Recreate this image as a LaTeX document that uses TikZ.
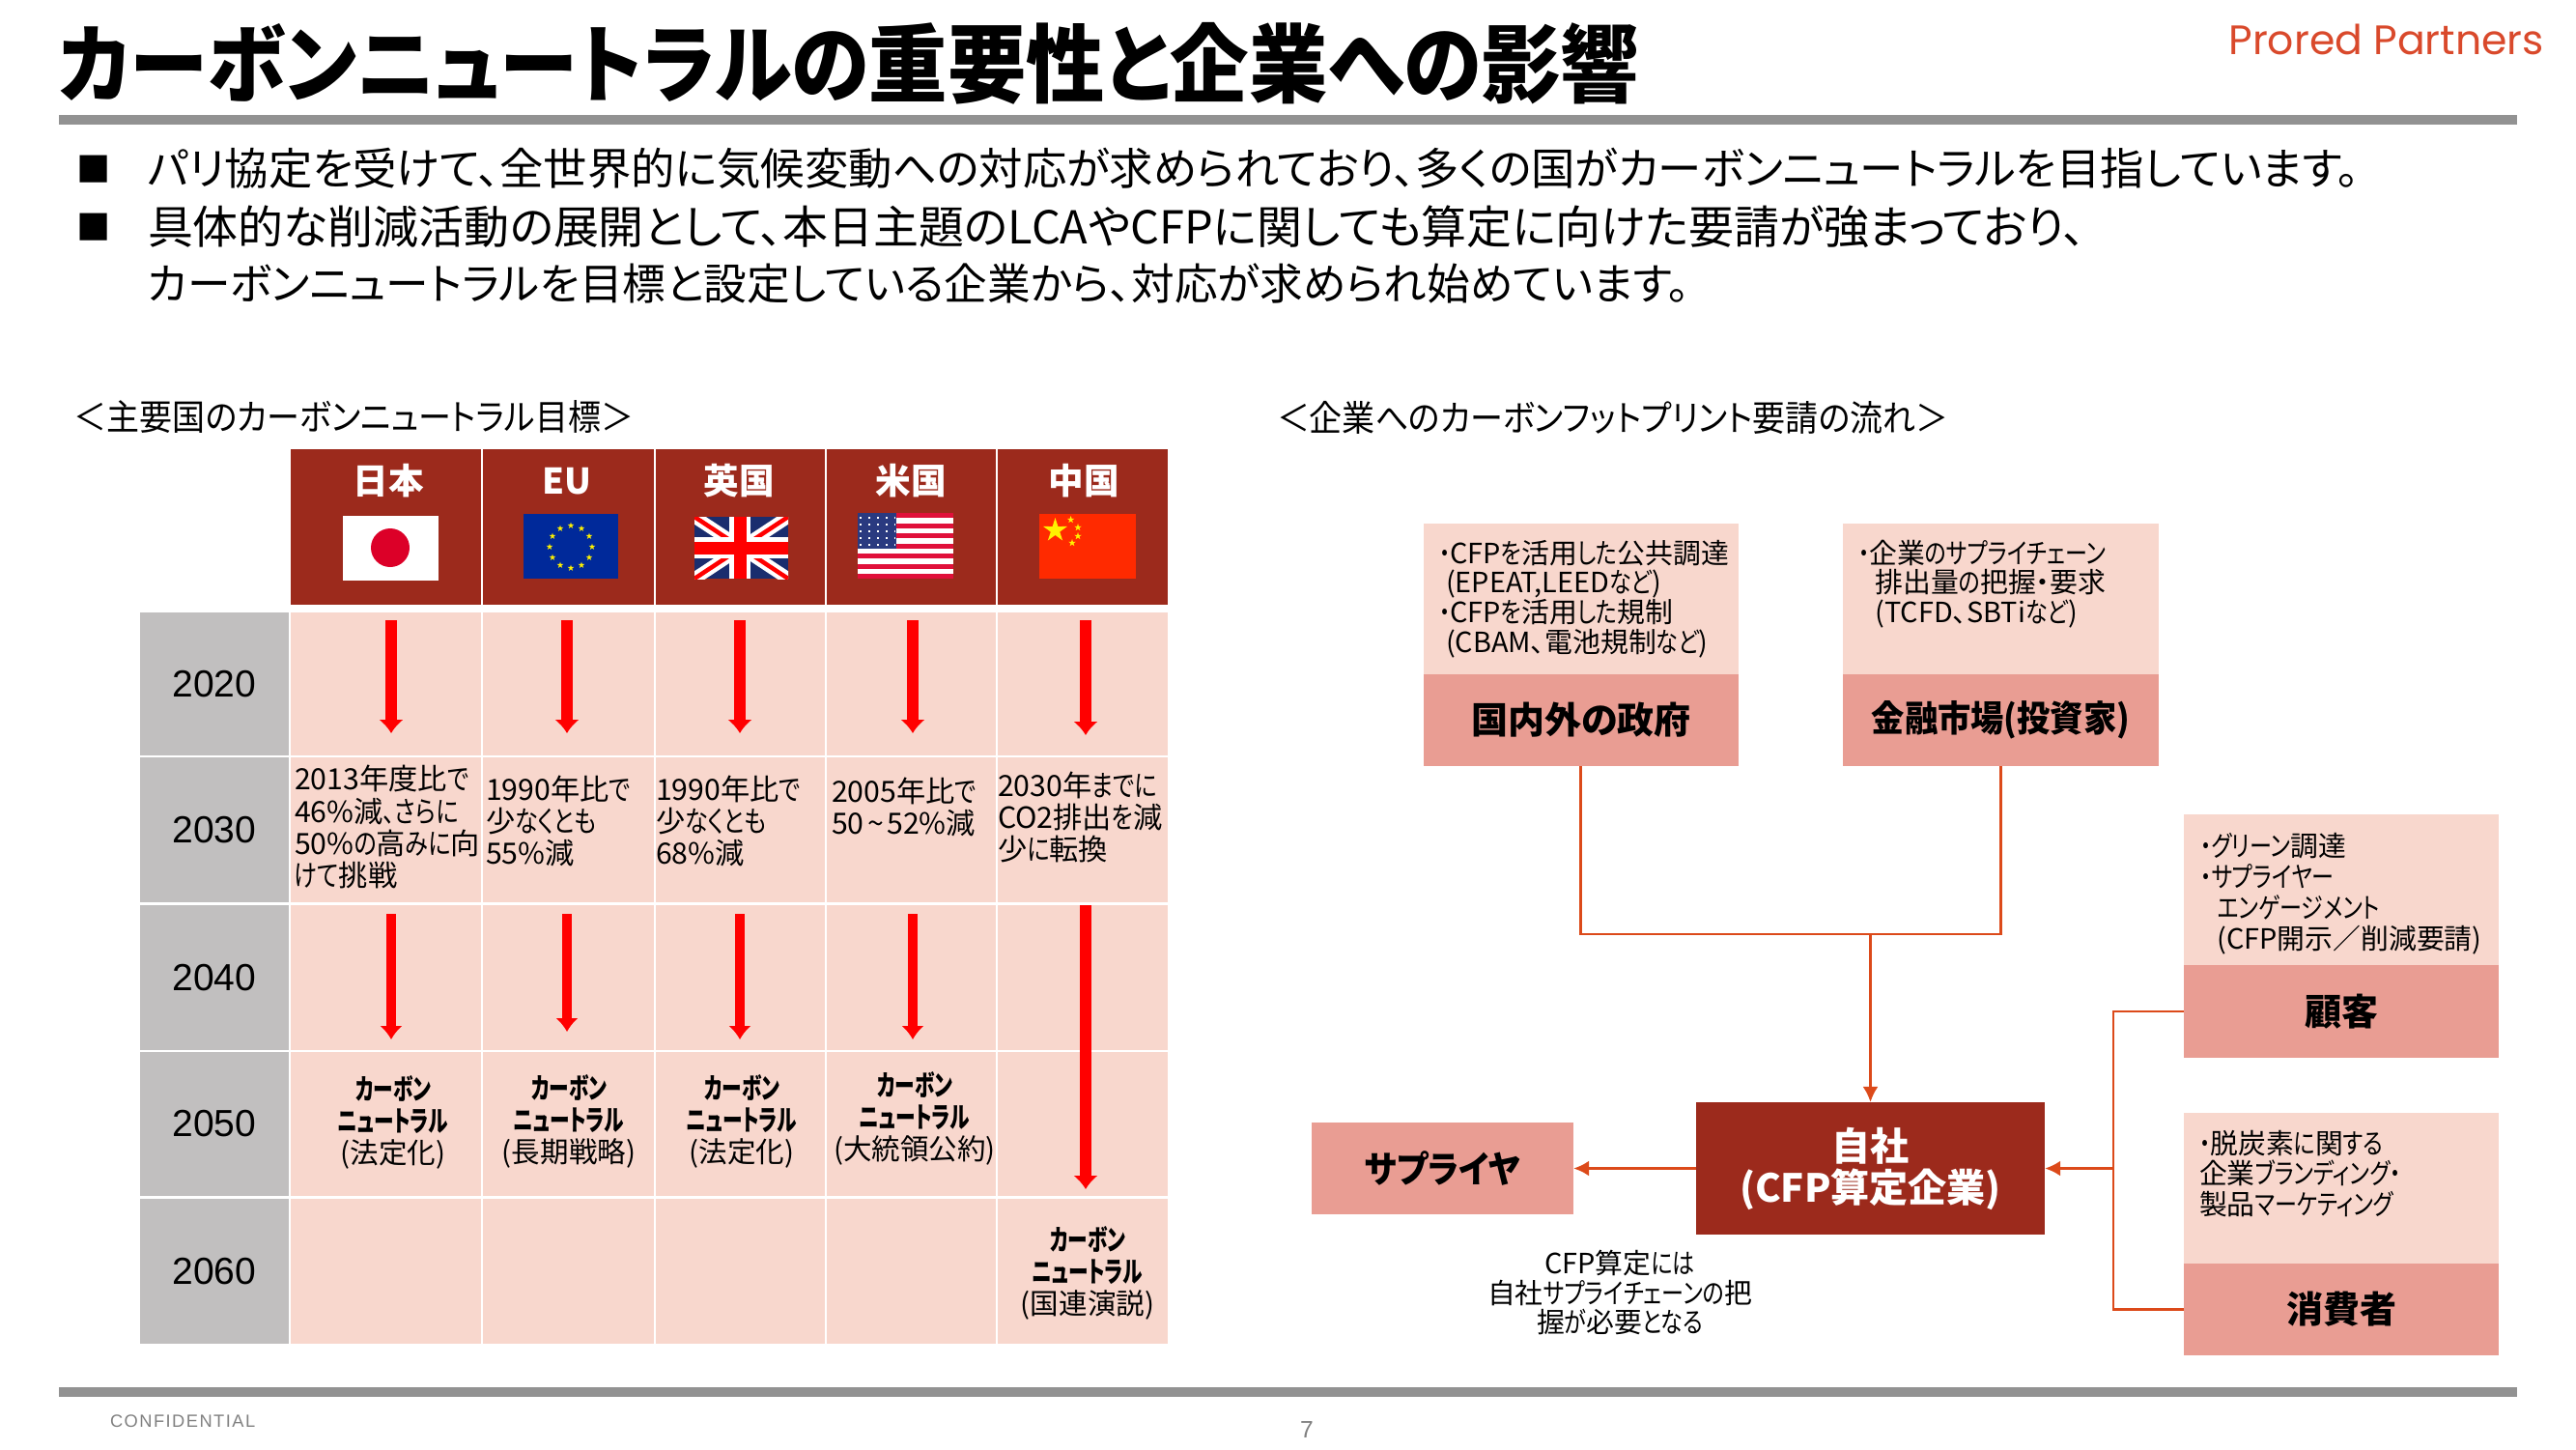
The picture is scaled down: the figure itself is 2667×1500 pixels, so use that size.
\documentclass[tikz,border=0pt]{standalone}
\usepackage{fontspec}
\usepackage{tikz}
\usetikzlibrary{arrows.meta}
\setmainfont{Noto Sans CJK JP}[RawFeature=+palt]
\newfontfamily\narrowfont[FakeStretch=0.92,RawFeature=+palt]{Noto Sans CJK JP}
\newfontfamily\kanafont[FakeStretch=0.8,RawFeature=+palt]{Noto Sans CJK JP}
\newfontfamily\goalfont[FakeStretch=0.7,RawFeature=+palt]{Noto Sans CJK JP}
\newfontfamily\yearfont{Liberation Sans}
\newfontfamily\logofont{Poppins}
\newfontfamily\footfont[LetterSpace=8]{Liberation Sans}
\newcommand{\kn}[1]{{\kanafont #1}}
\newcommand{\goalword}[1]{{\goalfont\bfseries #1}}
\definecolor{headred}{HTML}{9C2A1C}
\definecolor{cellpink}{HTML}{F8D7CD}
\definecolor{darkpink}{HTML}{E99D93}
\definecolor{yeargray}{HTML}{C1BFBF}
\definecolor{rulegray}{HTML}{929292}
\definecolor{linkred}{HTML}{DC4A1A}
\definecolor{logored}{HTML}{D9492B}
\definecolor{jpred}{HTML}{DC0028}
\definecolor{eublue}{HTML}{00299A}
\definecolor{ukblue}{HTML}{1A2D6E}
\definecolor{usred}{HTML}{E0103A}
\definecolor{usblue}{HTML}{2A3A80}
\definecolor{cnred}{HTML}{FF2A00}
\newcommand{\flagstar}[4]{\fill[#4] (#1,#2) +(-90:#3) -- +(-54:{#3*.38}) -- +(-18:#3) -- +(18:{#3*.38}) -- +(54:#3) -- +(90:{#3*.38}) -- +(126:#3) -- +(162:{#3*.38}) -- +(198:#3) -- +(234:{#3*.38}) -- cycle;}
\tikzset{
	flatbox/.style={inner sep=0pt, outer sep=0pt, align=center},
	headbox/.style={flatbox, fill=headred, minimum height=1.61cm},
	yearbox/.style={flatbox, fill=yeargray, minimum width=1.54cm, font=\yearfont\fontsize{11.1}{13}\selectfont},
	cellbox/.style={flatbox, fill=cellpink},
	colA/.style={minimum width=1.97cm},
	colB/.style={minimum width=1.77cm},
	colC/.style={minimum width=1.75cm},
	colD/.style={minimum width=1.75cm},
	colE/.style={minimum width=1.76cm},
	rowh/.style={minimum height=1.49cm},
	headtext/.style={flatbox, text=white, font=\fontsize{10.4}{12}\selectfont\bfseries},
	celltext/.style={flatbox, align=left, anchor=west, font=\fontsize{8.6}{9.4}\selectfont},
	goaltext/.style={flatbox, font=\fontsize{8.4}{9.4}\selectfont},
	infotext/.style={flatbox, align=left, anchor=north west, font=\fontsize{8.2}{8.7}\selectfont},
	infobox/.style={flatbox, fill=cellpink, minimum width=3.26cm, minimum height=1.56cm},
	whobox/.style={flatbox, fill=darkpink, minimum width=3.26cm, minimum height=0.95cm, font=\fontsize{10.8}{12}\selectfont\bfseries},
	yeararrow/.style={draw=red, line width=1.25mm, -{Latex[length=1.4mm,width=2.6mm]}},
	thinarrow/.style={draw=red, line width=1.05mm, -{Latex[length=1.4mm,width=2.4mm]}},
	linkline/.style={draw=linkred, line width=0.8pt},
	linkarrow/.style={linkline, -{Latex[length=1.6mm,width=1.6mm]}},
	bodytext/.style={flatbox, anchor=west, font=\fontsize{13}{15}\selectfont},
	sectext/.style={flatbox, anchor=west, font=\narrowfont\fontsize{10.5}{12}\selectfont}
}
\begin{document}
\begin{tikzpicture}[x=0.01cm,y=-0.01cm]
	\useasboundingbox (0,0) rectangle (2667,1500);
	% title and rules
	\node[flatbox, anchor=west, font=\narrowfont\fontsize{25.15}{28}\selectfont\bfseries] (title) at (61,66) {カーボンニュートラルの重要性と企業への影響};
	\node[flatbox, anchor=east, text=logored, font=\logofont\fontsize{12.1}{13}\selectfont] (logo) at (2634,41) {Prored Partners};
	\fill[rulegray] (61,119) rectangle (2606,129);
	\fill[rulegray] (61,1436) rectangle (2606,1446);
	\node[flatbox, anchor=west, text=gray, font=\footfont\fontsize{5.2}{6}\selectfont] (conf) at (114,1471) {CONFIDENTIAL};
	\node[flatbox, text=gray, font=\yearfont\fontsize{7}{8}\selectfont] (pageno) at (1353,1480) {7};
	% bullets
	\node[flatbox, font=\fontsize{10}{12}\selectfont] (bula) at (97,175) {■};
	\node[flatbox, font=\fontsize{10}{12}\selectfont] (bulb) at (97,235) {■};
	\node[bodytext, font=\fontsize{12.9}{15}\selectfont] (lina) at (153,174) {パリ協定を受けて、全世界的に気候変動への対応が求められており、多くの国がカーボンニュートラルを目指しています。};
	\node[bodytext, font=\fontsize{13.35}{15}\selectfont] (linb) at (153,235) {具体的な削減活動の展開として、本日主題のLCAやCFPに関しても算定に向けた要請が強まっており、};
	\node[bodytext, font=\fontsize{12.7}{15}\selectfont] (linc) at (153,294) {カーボンニュートラルを目標と設定している企業から、対応が求められ始めています。};
	\node[sectext] (secl) at (77,432) {＜主要国のカーボンニュートラル目標＞};
	\node[sectext] (secr) at (1322,432) {＜企業へのカーボンフットプリント要請の流れ＞};
	% table head
	\node[headbox, colA] (hjp) at (399.5,545.5) {};
	\node[headbox, colB] (heu) at (588.5,545.5) {};
	\node[headbox, colC] (huk) at (766.5,545.5) {};
	\node[headbox, colD] (hus) at (943.5,545.5) {};
	\node[headbox, colE] (hcn) at (1121,545.5) {};
	\node[headtext] (tjp) at (402,498) {日本};
	\node[headtext] (teu) at (587,498) {EU};
	\node[headtext] (tuk) at (765,498) {英国};
	\node[headtext] (tus) at (943,498) {米国};
	\node[headtext] (tcn) at (1122,498) {中国};
	% flags
	\fill[white] (354.5,534) rectangle (454,601);
	\fill[jpred] (404,567) circle (20);
	\fill[eublue] (542,532) rectangle (640,599);
	\flagstar{591}{544}{3.5}{yellow}
	\flagstar{602}{547}{3.5}{yellow}
	\flagstar{610}{555}{3.5}{yellow}
	\flagstar{613}{566}{3.5}{yellow}
	\flagstar{610}{577}{3.5}{yellow}
	\flagstar{602}{585}{3.5}{yellow}
	\flagstar{591}{588}{3.5}{yellow}
	\flagstar{580}{585}{3.5}{yellow}
	\flagstar{572}{577}{3.5}{yellow}
	\flagstar{569}{566}{3.5}{yellow}
	\flagstar{572}{555}{3.5}{yellow}
	\flagstar{580}{547}{3.5}{yellow}
	\begin{scope}
		\clip (719,535) rectangle (816,599);
		\fill[ukblue] (719,535) rectangle (816,599);
		\draw[white, line width=1.3mm] (719,535) -- (816,599) (816,535) -- (719,599);
		\draw[red, line width=0.45mm] (719,535) -- (816,599) (816,535) -- (719,599);
		\draw[white, line width=2.2mm] (766,535) -- (766,599) (719,567) -- (816,567);
		\draw[red, line width=1.3mm] (766,535) -- (766,599) (719,567) -- (816,567);
	\end{scope}
	\fill[white] (888,531) rectangle (987,599);
	\fill[usred] (888,531) rectangle (987,536);
	\fill[usred] (888,541.5) rectangle (987,546.7);
	\fill[usred] (888,552) rectangle (987,557);
	\fill[usred] (888,562.5) rectangle (987,567.8);
	\fill[usred] (888,573) rectangle (987,578.2);
	\fill[usred] (888,583.5) rectangle (987,588.7);
	\fill[usred] (888,594) rectangle (987,599);
	\fill[usblue] (888,531) rectangle (928,568);
	\draw[white, line width=0.2mm, dotted] (890,536) -- (927,536);
	\draw[white, line width=0.2mm, dotted] (890,543) -- (927,543);
	\draw[white, line width=0.2mm, dotted] (890,550) -- (927,550);
	\draw[white, line width=0.2mm, dotted] (890,557) -- (927,557);
	\draw[white, line width=0.2mm, dotted] (890,564) -- (927,564);
	\fill[cnred] (1076,532) rectangle (1176,599);
	\flagstar{1092.5}{549}{13}{yellow}
	\flagstar{1108.6}{538}{4}{yellow}
	\flagstar{1116}{546}{4}{yellow}
	\flagstar{1116}{555}{4}{yellow}
	\flagstar{1110}{562}{4}{yellow}
	% year column
	\node[yearbox, minimum height=1.47cm] (y20) at (222,708) {2020};
	\node[yearbox, rowh] (y30) at (222,859) {2030};
	\node[yearbox, minimum height=1.5cm] (y40) at (222,1012) {2040};
	\node[yearbox, rowh] (y50) at (222,1163.5) {2050};
	\node[yearbox, minimum height=1.5cm] (y60) at (222,1316) {2060};
	% cells
	\node[cellbox, colA, minimum height=1.47cm] (a20) at (399.5,708) {};
	\node[cellbox, colB, minimum height=1.47cm] (b20) at (588.5,708) {};
	\node[cellbox, colC, minimum height=1.47cm] (c20) at (766.5,708) {};
	\node[cellbox, colD, minimum height=1.47cm] (d20) at (943.5,708) {};
	\node[cellbox, colE, minimum height=1.47cm] (e20) at (1121,708) {};
	\node[cellbox, colA, rowh] (a30) at (399.5,859) {};
	\node[cellbox, colB, rowh] (b30) at (588.5,859) {};
	\node[cellbox, colC, rowh] (c30) at (766.5,859) {};
	\node[cellbox, colD, rowh] (d30) at (943.5,859) {};
	\node[cellbox, colE, rowh] (e30) at (1121,859) {};
	\node[cellbox, colA, minimum height=1.5cm] (a40) at (399.5,1012) {};
	\node[cellbox, colB, minimum height=1.5cm] (b40) at (588.5,1012) {};
	\node[cellbox, colC, minimum height=1.5cm] (c40) at (766.5,1012) {};
	\node[cellbox, colD, minimum height=1.5cm] (d40) at (943.5,1012) {};
	\node[cellbox, colE, minimum height=1.5cm] (e40) at (1121,1012) {};
	\node[cellbox, colA, rowh] (a50) at (399.5,1163.5) {};
	\node[cellbox, colB, rowh] (b50) at (588.5,1163.5) {};
	\node[cellbox, colC, rowh] (c50) at (766.5,1163.5) {};
	\node[cellbox, colD, rowh] (d50) at (943.5,1163.5) {};
	\node[cellbox, colE, rowh] (e50) at (1121,1163.5) {};
	\node[cellbox, colA, minimum height=1.5cm] (a60) at (399.5,1316) {};
	\node[cellbox, colB, minimum height=1.5cm] (b60) at (588.5,1316) {};
	\node[cellbox, colC, minimum height=1.5cm] (c60) at (766.5,1316) {};
	\node[cellbox, colD, minimum height=1.5cm] (d60) at (943.5,1316) {};
	\node[cellbox, colE, minimum height=1.5cm] (e60) at (1121,1316) {};
	% cell texts
	\node[celltext] (tgja) at (305,856) {2013年度比\kn{で}\\46\%減\kn{、さらに}\\50\%\kn{の}高\kn{みに}向\\\kn{けて}挑戦};
	\node[celltext] (tgeu) at (503,850) {1990年比\kn{で}\\少\kn{なくとも}\\55\%減};
	\node[celltext] (tguk) at (679,850) {1990年比\kn{で}\\少\kn{なくとも}\\68\%減};
	\node[celltext] (tgus) at (861,835) {2005年比\kn{で}\\50\hspace{1pt}\textasciitilde\hspace{1pt}52\%減};
	\node[celltext] (tgcn) at (1033,846) {2030年\kn{までに}\\CO2排出\kn{を}減\\少\kn{に}転換};
	\node[goaltext] (gja) at (407,1162) {\goalword{カーボン}\\\goalword{ニュートラル}\\(法定化)};
	\node[goaltext] (geu) at (589,1161) {\goalword{カーボン}\\\goalword{ニュートラル}\\(長期戦略)};
	\node[goaltext] (guk) at (768,1161) {\goalword{カーボン}\\\goalword{ニュートラル}\\(法定化)};
	\node[goaltext] (gus) at (947,1158) {\goalword{カーボン}\\\goalword{ニュートラル}\\(大統領公約)};
	\node[goaltext] (gcn) at (1126,1318) {\goalword{カーボン}\\\goalword{ニュートラル}\\(国連演説)};
	% arrows of the table
	\coordinate (sa1) at (405,642);
	\coordinate (ea1) at (405,759);
	\coordinate (sb1) at (587,642);
	\coordinate (eb1) at (587,759);
	\coordinate (sc1) at (766,642);
	\coordinate (ec1) at (766,759);
	\coordinate (sd1) at (945,642);
	\coordinate (ed1) at (945,759);
	\coordinate (se1) at (1124,642);
	\coordinate (ee1) at (1124,761);
	\draw[yeararrow] (sa1) -- (ea1);
	\draw[yeararrow] (sb1) -- (eb1);
	\draw[yeararrow] (sc1) -- (ec1);
	\draw[yeararrow] (sd1) -- (ed1);
	\draw[yeararrow] (se1) -- (ee1);
	\coordinate (sa2) at (405,946);
	\coordinate (ea2) at (405,1076);
	\coordinate (sb2) at (587,946);
	\coordinate (eb2) at (587,1068);
	\coordinate (sc2) at (766,946);
	\coordinate (ec2) at (766,1076);
	\coordinate (sd2) at (945,946);
	\coordinate (ed2) at (945,1076);
	\coordinate (se2) at (1124,937);
	\coordinate (ee2) at (1124,1231);
	\draw[thinarrow] (sa2) -- (ea2);
	\draw[thinarrow] (sb2) -- (eb2);
	\draw[thinarrow] (sc2) -- (ec2);
	\draw[thinarrow] (sd2) -- (ed2);
	\draw[yeararrow] (se2) -- (ee2);
	% right side boxes
	\node[infobox] (govinfo) at (1636.75,620) {};
	\node[infobox] (mktinfo) at (2071.5,620) {};
	\node[infobox] (custinfo) at (2424,921.5) {};
	\node[infobox] (consinfo) at (2424,1230) {};
	\node[whobox] (gov) at (1636.75,745.5) {国内外の政府};
	\node[whobox, font=\narrowfont\fontsize{10.6}{12}\selectfont\bfseries] (mkt) at (2071.5,745.5) {金融市場(投資家)};
	\node[whobox] (cust) at (2424,1047) {顧客};
	\node[whobox] (cons) at (2424,1355.5) {消費者};
	\node[whobox, font=\narrowfont\fontsize{10.8}{12}\selectfont\bfseries, minimum width=2.71cm, minimum height=0.95cm] (sup) at (1493.5,1209.5) {サプライヤ};
	\node[flatbox, fill=headred, text=white, minimum width=3.61cm, minimum height=1.37cm, font=\fontsize{11.4}{12.2}\selectfont\bfseries] (self) at (1936.5,1209.5) {自社\\(CFP算定企業)};
	\node[infotext] (govtxt) at (1490,559) {\kn{・}CFP\kn{を}活用\kn{した}公共調達\\\hspace{2pt}(EPEAT,LEED\kn{など})\\\kn{・}CFP\kn{を}活用\kn{した}規制\\\hspace{2pt}(CBAM、電池規制\kn{など})};
	\node[infotext] (mkttxt) at (1924,559) {\kn{・}企業\kn{のサプライチェーン}\\\hspace{5pt}排出量\kn{の}把握・要求\\\hspace{5pt}(TCFD、SBTi\kn{など})};
	\node[infotext, font=\fontsize{8.2}{9.1}\selectfont] (custtxt) at (2278,862) {\kn{・グリーン}調達\\\kn{・サプライヤー}\\\hspace{5pt}\kn{エンゲージメント}\\\hspace{5pt}(CFP開示／削減要請)};
	\node[infotext, font=\fontsize{8.2}{9}\selectfont] (constxt) at (2277,1170) {\kn{・}脱炭素\kn{に}関\kn{する}\\企業\kn{ブランディング・}\\製品\kn{マーケティング}};
	\node[flatbox, font=\fontsize{8.2}{8.6}\selectfont] (note) at (1677,1338) {CFP算定\kn{には}\\自社\kn{サプライチェーンの}把\\握\kn{が}必要\kn{となる}};
	% connectors
	\coordinate (midjoin) at (1936.5,967);
	\coordinate (sidejoin) at (2188,1209.5);
	\draw[linkline] (gov.south) |- (midjoin);
	\draw[linkline] (mkt.south) |- (midjoin);
	\draw[linkarrow] (midjoin) -- (self.north);
	\draw[linkline] (cust.west) -| (sidejoin);
	\draw[linkline] (cons.west) -| (sidejoin);
	\draw[linkarrow] (sidejoin) -- (self.east);
	\draw[linkarrow] (self.west) -- (sup.east);
\end{tikzpicture}
\end{document}
